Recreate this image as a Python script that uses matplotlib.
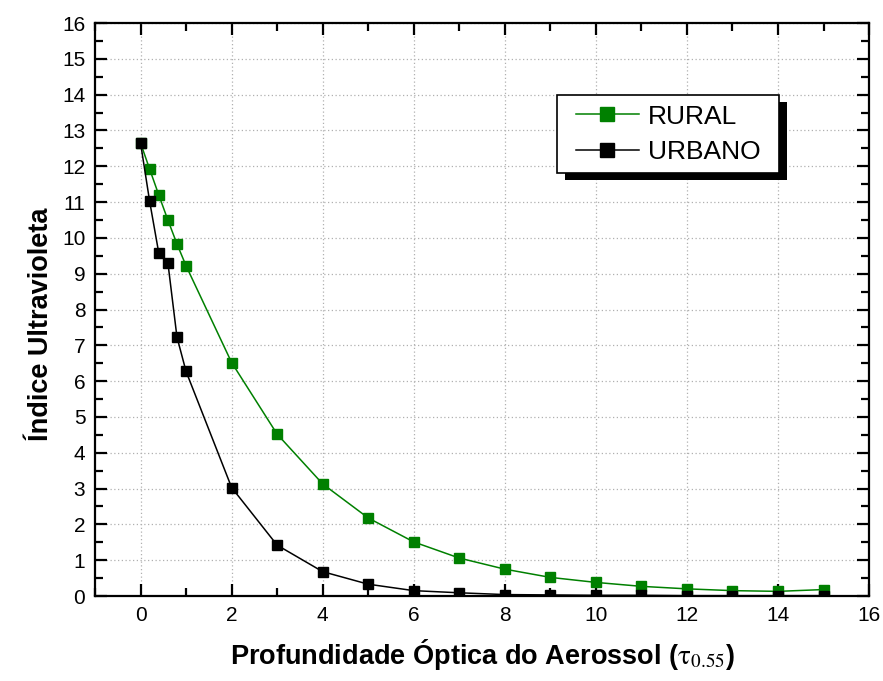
import matplotlib
matplotlib.use("Agg")
import matplotlib.pyplot as plt
from matplotlib.patches import Rectangle
from matplotlib.ticker import MultipleLocator

plt.rcParams['font.family'] = ['Liberation Sans', 'DejaVu Sans']
plt.rcParams['mathtext.fontset'] = 'stix'

# Data
tau = [0, 0.2, 0.4, 0.6, 0.8, 1, 2, 3, 4, 5, 6, 7, 8, 9, 10, 11, 12, 13, 14, 15]
rural = [12.65, 11.92, 11.2, 10.5, 9.83, 9.22, 6.52, 4.52, 3.13, 2.18, 1.51, 1.06,
         0.75, 0.52, 0.38, 0.27, 0.2, 0.15, 0.13, 0.18]
urbano = [12.65, 11.02, 9.58, 9.31, 7.23, 6.27, 3.03, 1.42, 0.68, 0.33, 0.15, 0.09,
          0.04, 0.03, 0.02, 0.02, 0.01, 0.01, 0.01, 0.01]

fig = plt.figure(figsize=(8.83, 6.81), dpi=100)
ax = fig.add_axes([0.1076, 0.1248, 0.8766, 0.8414])

ax.plot(tau, rural, color='#008000', lw=1.1, marker='s', ms=7.5,
        mec='#008000', label='RURAL', zorder=3)
ax.plot(tau, urbano, color='black', lw=1.1, marker='s', ms=7.5,
        mec='black', label='URBANO', zorder=4)

ax.set_xlim(-1, 16)
ax.set_ylim(0, 16)
ax.xaxis.set_major_locator(MultipleLocator(2))
ax.xaxis.set_minor_locator(MultipleLocator(1))
ax.yaxis.set_major_locator(MultipleLocator(1))
ax.yaxis.set_minor_locator(MultipleLocator(0.5))

ax.grid(True, which='major', color='#b0b0b0', linestyle=(0, (1, 2)), linewidth=0.9)
ax.set_axisbelow(True)

for s in ax.spines.values():
    s.set_linewidth(1.6)
ax.tick_params(which='both', direction='in', top=True, right=True, width=1.6,
               labelsize=15, pad=7)
ax.tick_params(which='major', length=8.5)
ax.tick_params(which='minor', length=5.5)

ax.set_xlabel(r'Profundidade Óptica do Aerossol ($\mathrm{\tau}_{0.55}$)', fontsize=19.5,
              fontweight='bold', labelpad=9)
ax.set_ylabel('Índice Ultravioleta', fontsize=19.5, fontweight='bold')
ax.yaxis.set_label_coords(-0.053, 0.475)

leg = ax.legend(loc='upper left', bbox_to_anchor=(0.6085, 0.8743), fontsize=19,
                frameon=False, handlelength=2.4, borderpad=0.36, labelspacing=0.43,
                handletextpad=0.35, borderaxespad=0, markerscale=1.35)
leg.set_zorder(6)

# Origin-style frame with a solid black drop shadow
fig.canvas.draw()
bb = leg.get_window_extent()
inv = ax.transAxes.inverted()
padx = 9
(x0, y0), (x1, y1) = inv.transform([[bb.x0 - padx, bb.y0], [bb.x1 + padx, bb.y1]])
(sx0, sy0), (sx1, sy1) = inv.transform([[bb.x0 - padx + 8, bb.y0 - 7],
                                        [bb.x1 + padx + 8, bb.y1 - 7]])
ax.add_patch(Rectangle((sx0, sy0), sx1 - sx0, sy1 - sy0, transform=ax.transAxes,
                       facecolor='black', edgecolor='none', clip_on=False, zorder=5.5))
ax.add_patch(Rectangle((x0, y0), x1 - x0, y1 - y0, transform=ax.transAxes,
                       facecolor='white', edgecolor='black', lw=1.2,
                       clip_on=False, zorder=5.8))

fig.savefig('out.png', dpi=100)
